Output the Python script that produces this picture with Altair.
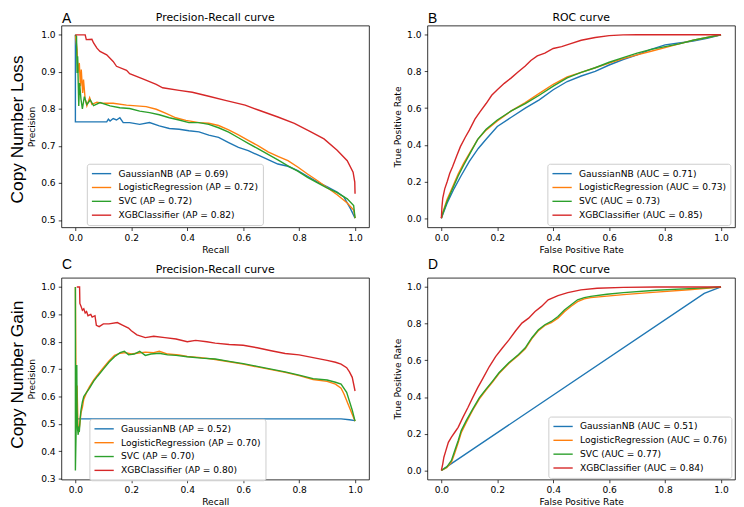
import altair as alt
import pandas as pd

MODELS = ["GaussianNB", "LogisticRegression", "SVC", "XGBClassifier"]
COLORS = ["#1f77b4", "#ff7f0e", "#2ca02c", "#d62728"]

AP_LOSS = ["0.69", "0.72", "0.72", "0.82"]
AUC_LOSS = ["0.71", "0.73", "0.73", "0.85"]
AP_GAIN = ["0.52", "0.70", "0.70", "0.80"]
AUC_GAIN = ["0.51", "0.76", "0.77", "0.84"]

X_TICKS = [0.0, 0.2, 0.4, 0.6, 0.8, 1.0]
Y_TICKS_PR_LOSS = [0.5, 0.6, 0.7, 0.8, 0.9, 1.0]
Y_TICKS_PR_GAIN = [0.3, 0.4, 0.5, 0.6, 0.7, 0.8, 0.9, 1.0]
Y_TICKS_ROC = [0.0, 0.2, 0.4, 0.6, 0.8, 1.0]

# ---- Panel A: Precision-Recall, Copy Number Loss (recall, precision)
PR_LOSS_GNB = [(0.0, 1.0), (0.0, 0.765), (0.112, 0.765), (0.118, 0.772), (0.124, 0.767),
               (0.135, 0.774), (0.147, 0.770), (0.159, 0.776), (0.171, 0.763), (0.194, 0.763),
               (0.23, 0.758), (0.265, 0.763), (0.3, 0.754), (0.336, 0.747), (0.371, 0.745),
               (0.406, 0.741), (0.442, 0.738), (0.477, 0.729), (0.512, 0.723), (0.548, 0.709),
               (0.583, 0.696), (0.618, 0.687), (0.654, 0.675), (0.689, 0.663), (0.724, 0.651),
               (0.76, 0.645), (0.795, 0.633), (0.83, 0.618), (0.866, 0.602), (0.901, 0.589),
               (0.936, 0.575), (0.96, 0.562), (0.984, 0.53), (1.0, 0.505)]
PR_LOSS_LR = [(0.0, 1.0), (0.006, 0.96), (0.009, 0.897), (0.014, 0.924), (0.018, 0.861),
              (0.021, 0.906), (0.026, 0.843), (0.029, 0.879), (0.035, 0.826), (0.041, 0.808),
              (0.051, 0.83), (0.059, 0.812), (0.077, 0.818), (0.1, 0.815), (0.135, 0.815),
              (0.183, 0.81), (0.218, 0.808), (0.253, 0.806), (0.289, 0.799), (0.324, 0.788),
              (0.359, 0.776), (0.395, 0.769), (0.442, 0.763), (0.477, 0.761), (0.512, 0.755),
              (0.548, 0.743), (0.583, 0.73), (0.618, 0.715), (0.654, 0.70), (0.689, 0.684),
              (0.724, 0.672), (0.76, 0.66), (0.795, 0.643), (0.83, 0.624), (0.866, 0.606),
              (0.901, 0.587), (0.936, 0.568), (0.972, 0.546), (0.995, 0.527), (1.0, 0.505)]
PR_LOSS_SVC = [(0.0, 1.0), (0.004, 0.996), (0.006, 0.897), (0.008, 0.942), (0.012, 0.808),
               (0.015, 0.87), (0.02, 0.826), (0.025, 0.80), (0.032, 0.833), (0.041, 0.812),
               (0.053, 0.824), (0.065, 0.809), (0.088, 0.817), (0.124, 0.808), (0.159, 0.803),
               (0.194, 0.801), (0.23, 0.794), (0.265, 0.79), (0.3, 0.784), (0.336, 0.776),
               (0.371, 0.77), (0.406, 0.763), (0.442, 0.763), (0.477, 0.758), (0.512, 0.749),
               (0.548, 0.737), (0.583, 0.722), (0.618, 0.707), (0.654, 0.692), (0.689, 0.677),
               (0.724, 0.662), (0.76, 0.646), (0.795, 0.632), (0.83, 0.615), (0.866, 0.60),
               (0.901, 0.586), (0.936, 0.574), (0.972, 0.557), (0.995, 0.539), (1.0, 0.505)]
PR_LOSS_XGB = [(0.0, 1.0), (0.035, 1.0), (0.039, 0.987), (0.059, 0.988), (0.065, 0.978),
               (0.077, 0.964), (0.088, 0.955), (0.112, 0.946), (0.135, 0.928), (0.147, 0.915),
               (0.183, 0.904), (0.194, 0.895), (0.241, 0.881), (0.289, 0.866), (0.312, 0.857),
               (0.371, 0.85), (0.418, 0.845), (0.477, 0.834), (0.536, 0.823), (0.607, 0.81),
               (0.654, 0.797), (0.724, 0.778), (0.783, 0.761), (0.842, 0.738), (0.889, 0.719),
               (0.936, 0.688), (0.972, 0.66), (0.993, 0.629), (0.999, 0.602), (1.0, 0.571)]

# ---- Panel B: ROC, Copy Number Loss (fpr, tpr)
ROC_LOSS_GNB = [(0.0, 0.0), (0.005, 0.02), (0.02, 0.08), (0.045, 0.16), (0.07, 0.23),
                (0.1, 0.31), (0.132, 0.38), (0.16, 0.43), (0.2, 0.5), (0.25, 0.55),
                (0.3, 0.6), (0.35, 0.645), (0.4, 0.7), (0.45, 0.745), (0.5, 0.775),
                (0.55, 0.8), (0.6, 0.835), (0.65, 0.865), (0.7, 0.89), (0.75, 0.92),
                (0.8, 0.945), (0.85, 0.955), (0.9, 0.965), (0.95, 0.98), (1.0, 1.0)]
ROC_LOSS_LR = [(0.0, 0.0), (0.005, 0.03), (0.02, 0.1), (0.04, 0.17), (0.06, 0.24),
               (0.08, 0.3), (0.103, 0.36), (0.13, 0.43), (0.16, 0.48), (0.2, 0.53),
               (0.25, 0.585), (0.3, 0.63), (0.35, 0.68), (0.4, 0.73), (0.45, 0.77),
               (0.5, 0.795), (0.55, 0.82), (0.6, 0.845), (0.65, 0.87), (0.7, 0.89),
               (0.75, 0.91), (0.8, 0.93), (0.85, 0.95), (0.9, 0.97), (0.95, 0.985), (1.0, 1.0)]
ROC_LOSS_SVC = [(0.0, 0.0), (0.005, 0.025), (0.02, 0.09), (0.04, 0.16), (0.06, 0.23),
                (0.08, 0.29), (0.103, 0.355), (0.13, 0.43), (0.16, 0.485), (0.2, 0.535),
                (0.25, 0.585), (0.3, 0.625), (0.35, 0.67), (0.4, 0.72), (0.45, 0.765),
                (0.5, 0.795), (0.55, 0.82), (0.6, 0.85), (0.65, 0.875), (0.7, 0.9),
                (0.75, 0.92), (0.8, 0.935), (0.85, 0.95), (0.9, 0.97), (0.95, 0.985), (1.0, 1.0)]
ROC_LOSS_XGB = [(0.0, 0.0), (0.002, 0.06), (0.005, 0.11), (0.012, 0.16), (0.021, 0.2),
                (0.03, 0.245), (0.04, 0.28), (0.055, 0.34), (0.068, 0.39), (0.085, 0.44),
                (0.1, 0.48), (0.12, 0.54), (0.138, 0.58), (0.16, 0.625), (0.18, 0.67),
                (0.2, 0.7), (0.225, 0.735), (0.25, 0.765), (0.273, 0.795), (0.3, 0.83),
                (0.32, 0.86), (0.343, 0.885), (0.37, 0.9), (0.4, 0.925), (0.43, 0.935),
                (0.46, 0.95), (0.5, 0.97), (0.55, 0.985), (0.6, 0.995), (0.65, 0.999),
                (0.7, 1.0), (1.0, 1.0)]

# ---- Panel C: Precision-Recall, Copy Number Gain
PR_GAIN_GNB = [(0.0, 0.518), (0.95, 0.518), (0.98, 0.515), (1.0, 0.512)]
PR_GAIN_LR = [(0.0, 1.0), (0.002, 0.67), (0.004, 0.56), (0.006, 0.64), (0.009, 0.50),
              (0.012, 0.47), (0.016, 0.50), (0.02, 0.54), (0.025, 0.56), (0.03, 0.59),
              (0.04, 0.615), (0.05, 0.635), (0.065, 0.66), (0.08, 0.68), (0.1, 0.705),
              (0.12, 0.73), (0.14, 0.75), (0.16, 0.758), (0.18, 0.76), (0.2, 0.755),
              (0.22, 0.758), (0.25, 0.762), (0.28, 0.76), (0.3, 0.765), (0.33, 0.755),
              (0.37, 0.752), (0.4, 0.746), (0.45, 0.742), (0.5, 0.735), (0.55, 0.727),
              (0.6, 0.718), (0.65, 0.708), (0.7, 0.698), (0.75, 0.688), (0.8, 0.676),
              (0.85, 0.662), (0.9, 0.655), (0.93, 0.645), (0.95, 0.63), (0.96, 0.61),
              (0.98, 0.56), (1.0, 0.51)]
PR_GAIN_SVC = [(0.0, 1.0), (0.0, 0.33), (0.003, 0.50), (0.004, 0.60), (0.005, 0.715),
               (0.006, 0.55), (0.008, 0.48), (0.01, 0.46), (0.012, 0.49), (0.014, 0.47),
               (0.017, 0.52), (0.02, 0.55), (0.025, 0.58), (0.03, 0.60), (0.04, 0.615),
               (0.05, 0.63), (0.065, 0.655), (0.08, 0.675), (0.1, 0.70), (0.12, 0.725),
               (0.14, 0.745), (0.16, 0.76), (0.175, 0.765), (0.19, 0.752), (0.21, 0.755),
               (0.23, 0.765), (0.25, 0.75), (0.27, 0.755), (0.3, 0.758), (0.33, 0.752),
               (0.36, 0.75), (0.4, 0.745), (0.45, 0.74), (0.5, 0.737), (0.55, 0.728),
               (0.6, 0.72), (0.65, 0.71), (0.7, 0.70), (0.75, 0.69), (0.8, 0.678),
               (0.85, 0.665), (0.9, 0.66), (0.93, 0.652), (0.95, 0.645), (0.97, 0.615),
               (0.99, 0.55), (1.0, 0.51)]
PR_GAIN_XGB = [(0.005, 1.0), (0.015, 1.0), (0.016, 0.94), (0.02, 0.93), (0.025, 0.915),
               (0.03, 0.92), (0.035, 0.905), (0.04, 0.91), (0.045, 0.895), (0.055, 0.90),
               (0.06, 0.89), (0.07, 0.895), (0.075, 0.86), (0.085, 0.855), (0.1, 0.865),
               (0.12, 0.865), (0.15, 0.87), (0.17, 0.86), (0.19, 0.85), (0.2, 0.84),
               (0.22, 0.825), (0.25, 0.815), (0.28, 0.82), (0.32, 0.815), (0.36, 0.81),
               (0.4, 0.80), (0.43, 0.805), (0.47, 0.80), (0.5, 0.795), (0.55, 0.79),
               (0.6, 0.787), (0.65, 0.778), (0.7, 0.767), (0.75, 0.757), (0.8, 0.752),
               (0.85, 0.742), (0.9, 0.732), (0.93, 0.725), (0.95, 0.718), (0.97, 0.705),
               (0.98, 0.69), (0.99, 0.67), (1.0, 0.62)]

# ---- Panel D: ROC, Copy Number Gain
ROC_GAIN_GNB = [(0.0, 0.0), (0.94, 0.965), (1.0, 1.0)]
ROC_GAIN_LR = [(0.0, 0.0), (0.019, 0.015), (0.036, 0.045), (0.048, 0.095), (0.06, 0.15),
               (0.071, 0.205), (0.089, 0.262), (0.112, 0.328), (0.136, 0.39), (0.159, 0.437),
               (0.183, 0.482), (0.206, 0.528), (0.241, 0.583), (0.276, 0.628), (0.3, 0.663),
               (0.323, 0.717), (0.347, 0.762), (0.37, 0.79), (0.393, 0.805), (0.417, 0.83),
               (0.44, 0.865), (0.464, 0.895), (0.487, 0.92), (0.511, 0.935), (0.534, 0.942),
               (0.592, 0.95), (0.651, 0.958), (0.768, 0.972), (0.885, 0.985), (1.0, 1.0)]
ROC_GAIN_SVC = [(0.0, 0.0), (0.019, 0.018), (0.036, 0.054), (0.048, 0.108), (0.06, 0.162),
                (0.071, 0.217), (0.089, 0.271), (0.112, 0.334), (0.136, 0.397), (0.159, 0.442),
                (0.183, 0.487), (0.206, 0.532), (0.241, 0.587), (0.276, 0.632), (0.3, 0.668),
                (0.323, 0.722), (0.347, 0.767), (0.37, 0.794), (0.393, 0.812), (0.417, 0.839),
                (0.44, 0.875), (0.464, 0.903), (0.487, 0.93), (0.511, 0.942), (0.534, 0.949),
                (0.592, 0.96), (0.651, 0.969), (0.768, 0.982), (0.885, 0.991), (1.0, 1.0)]
ROC_GAIN_XGB = [(0.0, 0.0), (0.005, 0.036), (0.009, 0.072), (0.016, 0.108), (0.025, 0.153),
                (0.036, 0.181), (0.048, 0.208), (0.06, 0.235), (0.077, 0.289), (0.095, 0.343),
                (0.112, 0.397), (0.13, 0.451), (0.148, 0.5), (0.171, 0.565), (0.194, 0.62),
                (0.218, 0.667), (0.241, 0.71), (0.265, 0.76), (0.288, 0.803), (0.312, 0.83),
                (0.335, 0.866), (0.358, 0.894), (0.382, 0.93), (0.417, 0.953), (0.452, 0.969),
                (0.499, 0.984), (0.557, 0.993), (0.651, 0.998), (0.768, 1.0), (1.0, 1.0)]

W, H = 311, 204
FONT = "DejaVu Sans"
LABEL_FONT = "Liberation Sans"


def make_frame(curves, metric, scores):
    rows, labels = [], []
    for model, score, pts in zip(MODELS, scores, curves):
        label = f"{model} ({metric} = {score})"
        labels.append(label)
        for i, (x, y) in enumerate(pts):
            rows.append({"x": x, "y": y, "model": label, "i": i})
    return pd.DataFrame(rows), labels


def text_layer(text, **mark):
    return alt.Chart(pd.DataFrame({"t": [text]})).mark_text(color="#000", **mark)


def panel(curves, metric, scores, letter, letter_y, title, xtitle, ytitle,
          ydomain, yticks, lx, ly, row_label=None, row_label_y=None):
    df, labels = make_frame(curves, metric, scores)
    lines = alt.Chart(df).mark_line(strokeWidth=1.4).encode(
        x=alt.X("x:Q",
                scale=alt.Scale(domain=[-0.05, 1.05], nice=False, zero=False),
                axis=alt.Axis(values=X_TICKS, format=".1f", title=xtitle,
                              titleX=W / 2, titleY=25, titleAngle=0,
                              titleAlign="center", titleBaseline="alphabetic")),
        y=alt.Y("y:Q",
                scale=alt.Scale(domain=ydomain, nice=False, zero=False),
                axis=alt.Axis(values=yticks, format=".1f", title=ytitle,
                              titleX=-27.5, titleY=H / 2, titleAngle=270,
                              titleAlign="center", titleBaseline="alphabetic")),
        color=alt.Color("model:N",
                        scale=alt.Scale(domain=labels, range=COLORS),
                        legend=alt.Legend(
                            orient="none", legendX=lx, legendY=ly, title=None,
                            direction="vertical",
                            symbolType="M-1,0H3", symbolSize=95,
                            symbolStrokeWidth=1.4, symbolOpacity=1,
                            labelFont=FONT, labelFontSize=9.2, labelColor="#000",
                            labelOffset=16, labelLimit=400, rowPadding=2,
                            padding=4, fillColor="rgba(255,255,255,0.8)",
                            strokeColor="#cccccc", cornerRadius=2.5)),
        order=alt.Order("i:Q"),
    )
    layers = [lines]
    layers.append(text_layer(title, font=FONT, fontSize=11, align="center",
                             baseline="alphabetic")
                  .encode(x=alt.value(W / 2), y=alt.value(-5), text="t:N"))
    layers.append(text_layer(letter, font=LABEL_FONT, fontSize=14, align="left",
                             baseline="alphabetic")
                  .encode(x=alt.value(0.5), y=alt.value(letter_y), text="t:N"))
    if row_label:
        layers.append(text_layer(row_label, font=LABEL_FONT, fontSize=17.5, angle=270,
                                 align="center", baseline="alphabetic")
                      .encode(x=alt.value(-39), y=alt.value(row_label_y), text="t:N"))
    return alt.layer(*layers).properties(width=W, height=H)


A = panel([PR_LOSS_GNB, PR_LOSS_LR, PR_LOSS_SVC, PR_LOSS_XGB], "AP", AP_LOSS,
          "A", -3, "Precision-Recall curve", "Recall", "Precision",
          [0.48, 1.025], Y_TICKS_PR_LOSS, 25.7, 139.7,
          row_label="Copy Number Loss", row_label_y=105)
B = panel([ROC_LOSS_GNB, ROC_LOSS_LR, ROC_LOSS_SVC, ROC_LOSS_XGB], "AUC", AUC_LOSS,
          "B", -3, "ROC curve", "False Positive Rate", "True Positive Rate",
          [-0.05, 1.05], Y_TICKS_ROC, 121.3, 139.7)
C = panel([PR_GAIN_GNB, PR_GAIN_LR, PR_GAIN_SVC, PR_GAIN_XGB], "AP", AP_GAIN,
          "C", -8.5, "Precision-Recall curve", "Recall", "Precision",
          [0.2965, 1.0335], Y_TICKS_PR_GAIN, 28.3, 142.7,
          row_label="Copy Number Gain", row_label_y=98)
D = panel([ROC_GAIN_GNB, ROC_GAIN_LR, ROC_GAIN_SVC, ROC_GAIN_XGB], "AUC", AUC_GAIN,
          "D", -8.5, "ROC curve", "False Positive Rate", "True Positive Rate",
          [-0.05, 1.05], Y_TICKS_ROC, 122.3, 140.3)

chart = alt.concat(
    A, B, C, D, columns=2, spacing={"row": 51, "column": 59}, bounds="flush"
).resolve_scale(
    color="independent", x="independent", y="independent"
).resolve_legend(
    color="independent"
).properties(
    padding=0
).configure_view(
    stroke="#000", strokeWidth=0.8
).configure_axis(
    domain=False, grid=False, tickSize=3.2, tickWidth=0.75, tickColor="#000",
    labelFont=FONT, labelFontSize=9.2, labelColor="#000", labelPadding=3.2,
    labelFlush=False, titleFont=FONT, titleFontSize=9.2, titleFontWeight="normal",
    titleColor="#000"
)

chart.save("out.html", embed_options={"renderer": "svg", "actions": False})
